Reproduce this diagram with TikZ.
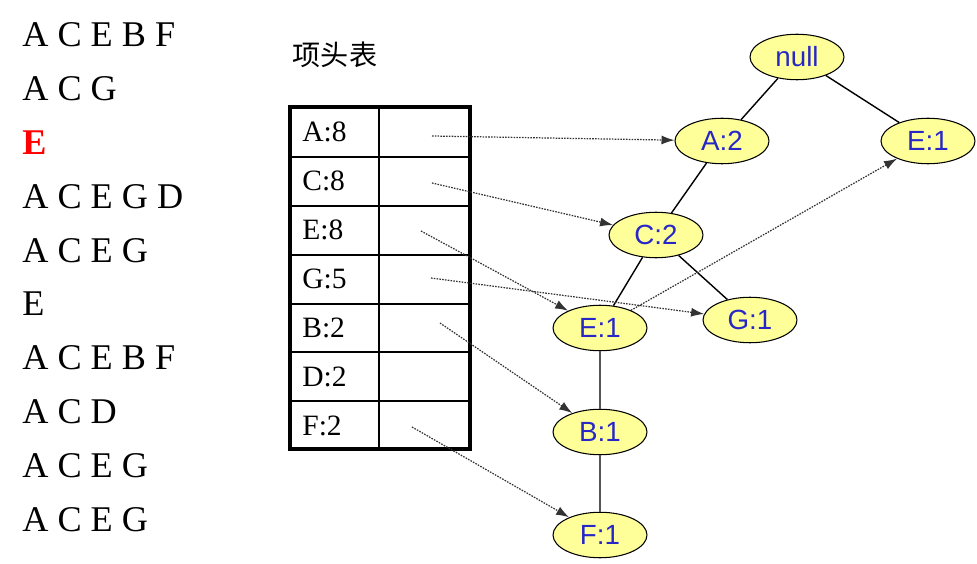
\documentclass[tikz,border=0pt]{standalone}
\usepackage{fontspec}
\setmainfont{Liberation Serif}
\newfontfamily\treefont{Liberation Sans}
\newfontfamily\cjk{Noto Sans CJK SC}
\usetikzlibrary{arrows.meta,shapes.geometric}
\definecolor{NodeFill}{HTML}{FFFF99}
\definecolor{NodeText}{HTML}{2727C8}
\definecolor{Link}{HTML}{333333}
\definecolor{Stem}{HTML}{555555}
\tikzset{
  item/.style={anchor=base west,font=\fontsize{20.6}{23}\selectfont,inner sep=0pt},
  cell/.style={anchor=west,font=\fontsize{16.8}{19}\selectfont,inner sep=0pt},
  fpnode/.style={ellipse,draw=black,fill=NodeFill,line width=.6pt,minimum width=1.88cm,minimum height=.91cm,inner sep=0pt,text=NodeText,font=\treefont\fontsize{15.8}{18}\selectfont},
  treeedge/.style={draw=black,line width=.8pt},
  stemedge/.style={draw=Stem,line width=1.4pt},
  nodelink/.style={-{Latex[length=2.6mm,width=1.8mm]},draw=Link,dash pattern=on .9pt off .7pt,line width=.7pt}
}

\begin{document}
\begin{tikzpicture}[x=0.02cm,y=-0.02cm]
  \useasboundingbox (0,0) rectangle (977,564);
  % transactions
  \foreach \row/\i/\items in {r1/0/A C E B F,r2/1/A C G,r4/3/A C E G D,r5/4/A C E G,r6/5/E,r7/6/A C E B F,r8/7/A C D,r9/8/A C E G,r10/9/A C E G}
    \node[item] (\row) at (22,47+53.8*\i) {\items};
  \node[item,text=red,font=\fontsize{20.6}{23}\selectfont\bfseries] (r3) at (22,47+53.8*2) {E};
  % header table
  \node[font=\cjk\fontsize{16}{18}\selectfont,inner sep=0pt] (title) at (335,55) {项头表};
  \draw[line width=2.2pt] (290,107) rectangle (470,449);
  \draw[line width=1pt] (379,107) -- (379,449);
  \foreach \y in {157,206,255,304,352,401}
    \draw[line width=1pt] (290,\y) -- (470,\y);
  \foreach \lbl/\name [count=\i from 0] in {A:8/hA,C:8/hC,E:8/hE,G:5/hG,B:2/hB,D:2/hD,F:2/hF}
    \node[cell] (\name) at (302,132+49*\i) {\lbl};
  % link heads
  \coordinate (pA) at (432,136);
  \coordinate (pC) at (432,183);
  \coordinate (pE) at (421,231);
  \coordinate (pG) at (431,278);
  \coordinate (pB) at (440,323);
  \coordinate (pF) at (412,427);
  % fp-tree
  \node[fpnode] (root) at (797,57) {null};
  \node[fpnode] (a2) at (722,141) {A:2};
  \node[fpnode] (e1r) at (928,141) {E:1};
  \node[fpnode] (c2) at (656,235) {C:2};
  \node[fpnode] (g1) at (750,320) {G:1};
  \node[fpnode] (e1) at (600,328) {E:1};
  \node[fpnode] (b1) at (600,432) {B:1};
  \node[fpnode] (f1) at (600,535) {F:1};
  \draw[treeedge] (root) -- (a2);
  \draw[treeedge] (root) -- (e1r);
  \draw[treeedge] (a2) -- (c2);
  \draw[treeedge] (c2) -- (e1);
  \draw[treeedge] (c2) -- (g1);
  \draw[stemedge] (e1) -- (b1);
  \draw[stemedge] (b1) -- (f1);
  % node-links
  \draw[nodelink] (pA) -- (a2);
  \draw[nodelink] (pC) -- (c2);
  \draw[nodelink] (pE) -- (e1);
  \draw[nodelink] (pG) -- (g1);
  \draw[nodelink] (pB) -- (b1);
  \draw[nodelink] (pF) -- (f1);
  \draw[nodelink] (e1) -- (e1r);
\end{tikzpicture}
\end{document}
